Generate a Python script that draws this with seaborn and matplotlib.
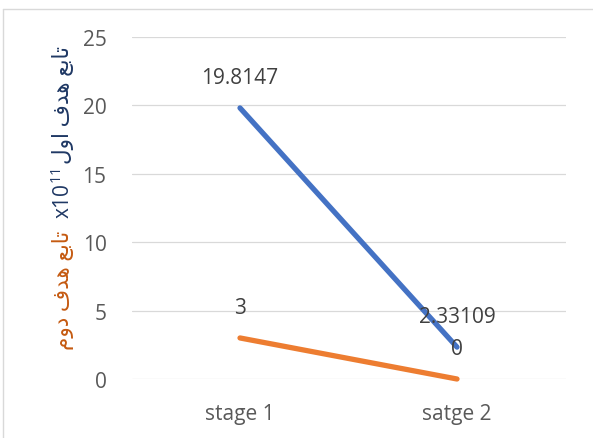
import matplotlib
matplotlib.use("Agg")
import matplotlib.pyplot as plt
from matplotlib.lines import Line2D
import seaborn as sns
import pandas as pd

# Categories and the two objective-function series
stages = ["stage 1", "satge 2"]
objective_1 = [19.8147, 2.33109]   # first objective (x10^11)
objective_2 = [3, 0]               # second objective
series_names = ["obj1", "obj2"]
y_ticks = [0, 5, 10, 15, 20, 25]

# Axis title pieces (Arabic in presentation forms, visual order)
label_obj1 = "\uFEDD\uFEED\uFE8D \uFED1\uFEAA\uFEEB \uFECA\uFE91\uFE8E\uFE97"   # تابع هدف اول
label_obj2 = "\uFEE1\uFEED\uFEA9 \uFED1\uFEAA\uFEEB \uFECA\uFE91\uFE8E\uFE97"   # تابع هدف دوم

sns.set_theme(style="white")
plt.rcParams["font.family"] = ["Open Sans", "DejaVu Sans"]
plt.rcParams["mathtext.default"] = "regular"

df = pd.DataFrame({
    "stage": stages * 2,
    "pos": list(range(len(stages))) * 2,
    "value": objective_1 + objective_2,
    "series": [series_names[0]] * len(stages) + [series_names[1]] * len(stages),
})

fig = plt.figure(figsize=(5.93, 4.39), dpi=100)
W, H = 593, 439
ax = fig.add_axes([131.5 / W, (H - 380) / H, (565.5 - 131.5) / W, (380 - 38) / H])

palette = {"obj1": "#4472C4", "obj2": "#ED7D31"}
sns.lineplot(data=df, x="pos", y="value", hue="series", palette=palette,
             linewidth=3.8, legend=False, ax=ax, zorder=3)
for ln in ax.get_lines():
    ln.set_clip_on(False)
    ln.set_solid_capstyle("round")

ax.set_xlim(-0.5, len(stages) - 0.5)
ax.set_ylim(0, 25)
ax.set_yticks(y_ticks)
ax.set_xticks(range(len(stages)))
ax.set_xticklabels(stages)
ax.grid(axis="y", color="#D9D9D9", linewidth=0.9)
ax.set_axisbelow(True)
for s in ax.spines.values():
    s.set_visible(False)
ax.tick_params(axis="y", length=0, pad=18, labelsize=15, labelcolor="#595959")
ax.tick_params(axis="x", length=0, pad=17, labelsize=15, labelcolor="#595959")
ax.set_xlabel("")
ax.set_ylabel("")

# Data labels above each point
for vals in (objective_1, objective_2):
    for i, v in enumerate(vals):
        ax.annotate(f"{v:g}", (i, v), xytext=(0, 22), textcoords="offset points",
                    ha="center", va="center", fontsize=15, color="#404040", zorder=4)

# Two-colour vertical axis title
fig.text(63 / W, 1 - 290 / H, label_obj2, rotation=90, ha="center", va="center",
         fontsize=15.5, color="#C55A11")
fig.text(63 / W, 1 - 194 / H, r"x10$^{11}$", rotation=90, ha="center", va="center",
         fontsize=15, color="#1F3864")
fig.text(63 / W, 1 - 105 / H, label_obj1, rotation=90, ha="center", va="center",
         fontsize=15.5, color="#1F3864")

# Chart-area border (top and left edges)
fig.add_artist(Line2D([3 / W, 3 / W], [0, 1 - 10 / H], color="#D9D9D9", linewidth=1))
fig.add_artist(Line2D([3 / W, 1], [1 - 10 / H, 1 - 10 / H], color="#D9D9D9", linewidth=1))

fig.savefig("out.png", dpi=100, facecolor="white")
